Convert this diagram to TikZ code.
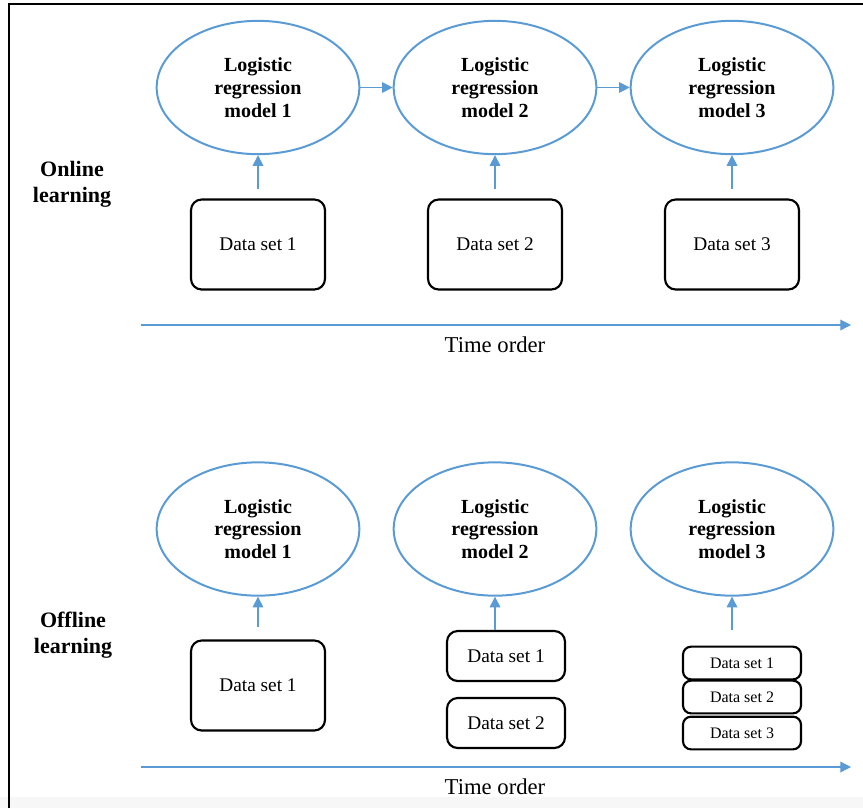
\documentclass[tikz,border=0pt]{standalone}
\usepackage{fontspec}
\setmainfont{Liberation Serif}
\usetikzlibrary{arrows.meta,shapes.geometric}
\definecolor{flowblue}{RGB}{91,155,213}

\begin{document}
\begin{tikzpicture}[x=0.75pt, y=-0.75pt,
  >={Triangle[length=8pt, width=8pt]},
  mdl/.style={ellipse, draw=flowblue, line width=1.5pt, inner sep=0pt,
    minimum width=152pt, minimum height=100pt, align=center,
    font=\fontsize{15}{17}\selectfont\bfseries},
  ds/.style={draw=black, line width=1.6pt, rounded corners=8pt,
    minimum width=100.5pt, minimum height=67.5pt,
    font=\fontsize{14.5}{17}\selectfont},
  dsm/.style={ds, minimum width=88.5pt, minimum height=37.5pt},
  dst/.style={ds, rounded corners=6pt, minimum width=88.5pt,
    minimum height=24.5pt, inner sep=0pt, font=\fontsize{12}{14}\selectfont},
  lb/.style={align=center, font=\fontsize{16.5}{19.5}\selectfont\bfseries},
  tl/.style={font=\fontsize{17}{20}\selectfont},
  fl/.style={->, flowblue, line width=0.9pt},
]
\useasboundingbox (0,0) rectangle (863,808);
\fill[black!3] (0,797) rectangle (863,808);
\draw[line width=1.5pt] (9,808) -- (9,4) -- (863,4);
% online learning
\node[lb] (on) at (72,184) {Online\\learning};
\foreach \i/\x in {1/258,2/495,3/732} {
  \node[mdl] (m\i) at (\x,87.5) {Logistic\\regression\\model \i};
  \node[ds] (d\i) at (\x,244.5) {Data set \i};
  \draw[fl, shorten <=7pt] (d\i) -- (m\i);
}
\draw[fl] (m1) -- (m2);
\draw[fl] (m2) -- (m3);
\coordinate (ta) at (141,325);
\coordinate (tb) at (851,325);
\draw[fl] (ta) -- (tb);
\node[tl] (tx) at (495,345) {Time order};
% offline learning
\node[lb] (off) at (73,635) {Offline\\learning};
\foreach \i/\x in {1/258,2/495,3/732} {
  \node[mdl] (o\i) at (\x,529) {Logistic\\regression\\model \i};
}
\node[ds] (e1) at (258,685.5) {Data set 1};
\node[dsm] (e2a) at (506,656) {Data set 1};
\node[dsm] (e2b) at (506,723) {Data set 2};
\foreach \j/\y in {1/663,2/697,3/733} {
  \node[dst] (e3\j) at (742,\y) {Data set \j};
}
\draw[fl, shorten <=9pt] (e1) -- (o1);
\draw[fl] (e2a.north -| o2) -- (o2);
\draw[fl, shorten <=12pt] (e31.north -| o3) -- (o3);
\coordinate (ba) at (141,767);
\coordinate (bb) at (851,767);
\draw[fl] (ba) -- (bb);
\node[tl] (bx) at (495,787) {Time order};
\end{tikzpicture}
\end{document}
